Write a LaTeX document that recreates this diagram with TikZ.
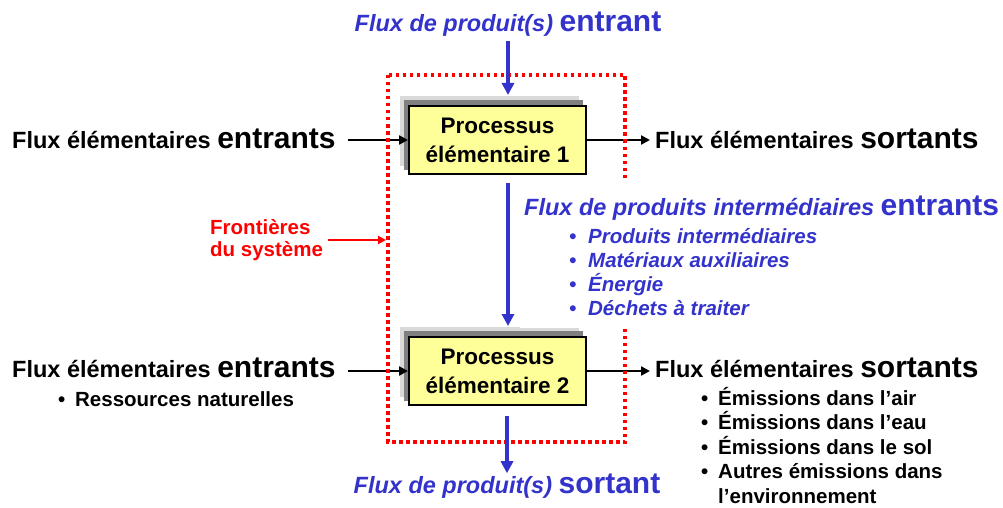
\documentclass[tikz,border=0pt]{standalone}
\usepackage{fontspec}
\setmainfont{Liberation Sans}
\usetikzlibrary{arrows.meta,backgrounds,calc}
\definecolor{flowblue}{RGB}{51,51,204}
\definecolor{bndred}{RGB}{255,0,0}
\definecolor{boxyellow}{RGB}{255,255,153}
\definecolor{shadowdark}{RGB}{128,128,128}
\definecolor{shadowlight}{RGB}{217,217,217}
\newcommand\fsmall{\fontsize{23.5}{28}\selectfont}
\newcommand\fbig{\fontsize{30}{36}\selectfont}
\newcommand\flist{\fontsize{20.5}{24}\selectfont}
\newcommand\bul[1]{\makebox[#1][l]{•}}

\begin{document}
\begin{tikzpicture}[x=1pt,y=-1pt,
  txt/.style={inner sep=0pt, anchor=base west, font=\bfseries},
  bluetxt/.style={inner sep=0pt, text=flowblue, font=\bfseries\itshape},
  bluelist/.style={bluetxt, anchor=base west, font=\bfseries\itshape\flist},
  blklist/.style={txt, font=\bfseries\flist},
  process/.style={draw=black, line width=2pt, fill=boxyellow,
    minimum width=177pt, minimum height=68pt, inner sep=0pt,
    align=center, font=\bfseries\fontsize{22.5}{29}\selectfont},
  blkflow/.style={line width=2.5pt, -{Triangle[length=9pt,width=9pt]}},
  blueflow/.style={draw=flowblue, line width=3.5pt,
    -{Triangle[length=12pt,width=12pt]}},
  redflow/.style={draw=bndred, line width=2.5pt,
    -{Triangle[length=8pt,width=8pt]}},
  boundary/.style={draw=bndred, line width=3.5pt,
    dash pattern=on 3.5pt off 3.5pt},
]
\useasboundingbox (0,0) rectangle (1003,508);

% unit processes
\node[process] (p1) at (497.5,140) {Processus\\élémentaire 1};
\node[process] (p2) at (497.5,371) {Processus\\élémentaire 2};

% elementary flows
\node[txt] (fe1) at (12,148) {\fsmall Flux élémentaires {\fbig entrants}};
\node[txt] (fs1) at (655,148) {\fsmall Flux élémentaires {\fbig sortants}};
\node[txt] (fe2) at (12,377) {\fsmall Flux élémentaires {\fbig entrants}};
\node[txt] (fs2) at (655,377) {\fsmall Flux élémentaires {\fbig sortants}};
\node[blklist] (r1) at (58,406) {\bul{17pt}Ressources naturelles};
\node[blklist] (e1) at (701,405) {\bul{17pt}Émissions dans l’air};
\node[blklist] (e2) at (701,429.5) {\bul{17pt}Émissions dans l’eau};
\node[blklist] (e3) at (701,454) {\bul{17pt}Émissions dans le sol};
\node[blklist] (e4) at (701,478.5) {\bul{17pt}Autres émissions dans};
\node[blklist] (e5) at (718,503) {l’environnement};

% system boundary label
\node[inner sep=0pt, anchor=west, align=left, text=bndred,
  font=\bfseries\fontsize{20.5}{22}\selectfont] (fr) at (210,240) {Frontières\\du système};

% page and drop shadows behind the process boxes
\begin{scope}[on background layer]
  \fill[white] (0,0) rectangle (1003,508);
  \foreach \p in {p1,p2} {
    \fill[shadowlight] ($(\p.south west)+(-8,-9)$) rectangle ($(\p.north east)+(-8,-9)$);
    \fill[shadowdark] ($(\p.south west)+(-4,-5)$) rectangle ($(\p.north east)+(-4,-5)$);
  }
\end{scope}

% elementary flow arrows
\draw[blkflow, shorten <=12pt] (fe1.east |- p1.west) -- (p1.west);
\draw[blkflow, shorten >=5pt] (p1.east) -- (fs1.west |- p1.east);
\draw[blkflow, shorten <=12pt] (fe2.east |- p2.west) -- (p2.west);
\draw[blkflow, shorten >=5pt] (p2.east) -- (fs2.west |- p2.east);

% system boundary
\coordinate (bnw) at (388,75);
\coordinate (bse) at (625,442);
\draw[boundary] (bnw) rectangle (bse);
\draw[redflow, shorten <=5pt, shorten >=2pt] (fr.east) -- (fr.east -| bnw);

% product flows
\node[bluetxt, anchor=base] (t1) at (508,32) {\fsmall Flux de produit(s) {\fbig\upshape entrant}};
\node[bluetxt, anchor=base] (t2) at (507,493) {\fsmall Flux de produit(s) {\fbig\upshape sortant}};
\coordinate (midtl) at (520,180);
\coordinate (midbr) at (1003,328);
\fill[white] (midtl) rectangle (midbr);
\node[bluetxt, anchor=base west] (mid) at (524,215) {\fsmall Flux de produits intermédiaires {\fbig\upshape entrants}};
\node[bluelist] (m1) at (569,243) {\bul{19pt}Produits intermédiaires};
\node[bluelist] (m2) at (569,267) {\bul{19pt}Matériaux auxiliaires};
\node[bluelist] (m3) at (569,291) {\bul{19pt}Énergie};
\node[bluelist] (m4) at (569,315) {\bul{19pt}Déchets à traiter};

% product flow arrows
\draw[blueflow, shorten <=4pt, shorten >=10pt] (t1.south) -- (t1.south |- p1.north);
\draw[blueflow, shorten <=8pt, shorten >=10pt] (t1.south |- p1.south) -- (t1.south |- p2.north);
\draw[blueflow, shorten <=10pt] (t2.north |- p2.south) -- (t2.north);
\end{tikzpicture}
\end{document}
